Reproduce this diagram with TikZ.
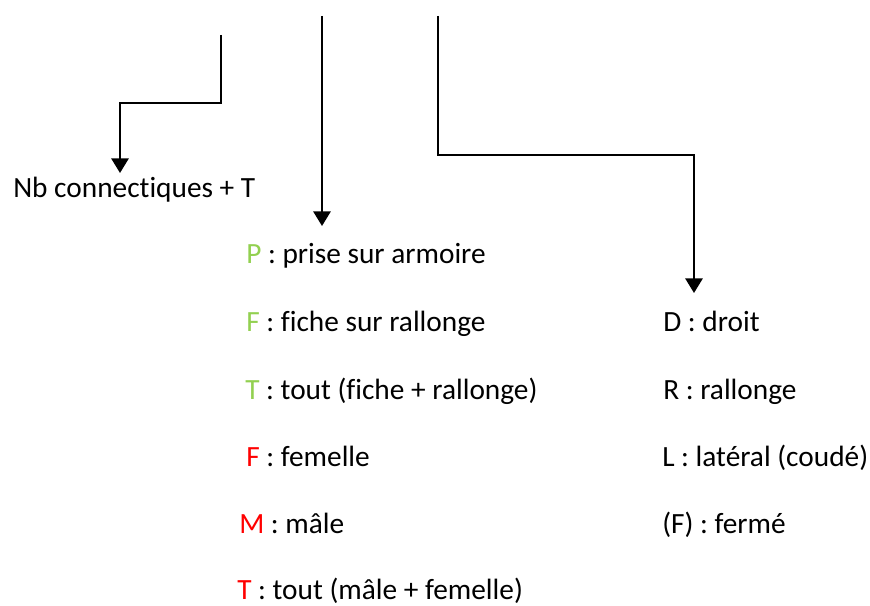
\documentclass[tikz,border=0pt]{standalone}
\usepackage{fontspec}
\usepackage{xcolor}
\setmainfont{Carlito}[Ligatures=NoCommon]
\usetikzlibrary{arrows.meta}

\definecolor{codegreen}{HTML}{92D050}
\definecolor{codered}{HTML}{FF0000}

\begin{document}
\begin{tikzpicture}[x=0.75pt, y=-0.75pt,
        conn/.style={line width=1.5pt, -{Triangle[width=13pt,length=11pt]}},
        lbl/.style={anchor=base west, inner sep=0pt, font=\fontsize{22}{26}\selectfont}]
        \useasboundingbox (0, 0) rectangle (870, 606);
        % connectors
        \coordinate (top1) at (221, 35);
        \coordinate (bend1) at (120, 103);
        \coordinate (end1) at (120, 173);
        \coordinate (top2) at (322, 16);
        \coordinate (end2) at (322, 226);
        \coordinate (top3) at (438, 16);
        \coordinate (bend3) at (694, 155);
        \coordinate (end3) at (694, 293);
        \draw [conn] (top1) |- (bend1) -- (end1);
        \draw [conn] (top2) -- (end2);
        \draw [conn] (top3) |- (bend3) -- (end3);
        % labels
        \node [lbl] (nb) at (13, 197) {Nb connectiques + T};
        \foreach \n/\x/\y/\c/\k/\t in {p/246/263/codegreen/P/prise sur armoire,
                f/246/331/codegreen/F/fiche sur rallonge,
                t/245/399/codegreen/T/tout (fiche + rallonge),
                fe/246/466/codered/F/femelle,
                m/239/533/codered/M/mâle,
                tm/237/599/codered/T/tout (mâle + femelle)}{
            \node [lbl] (\n) at (\x, \y) {\textcolor{\c}{\k} : \t};
        }
        \node [lbl] (d) at (663, 331) {D : droit};
        \node [lbl] (r) at (663, 399) {R : rallonge};
        \node [lbl] (l) at (662, 466) {L : latéral (coudé)};
        \node [lbl] (ff) at (662, 533) {(F) : fermé};
    \end{tikzpicture}
\end{document}
